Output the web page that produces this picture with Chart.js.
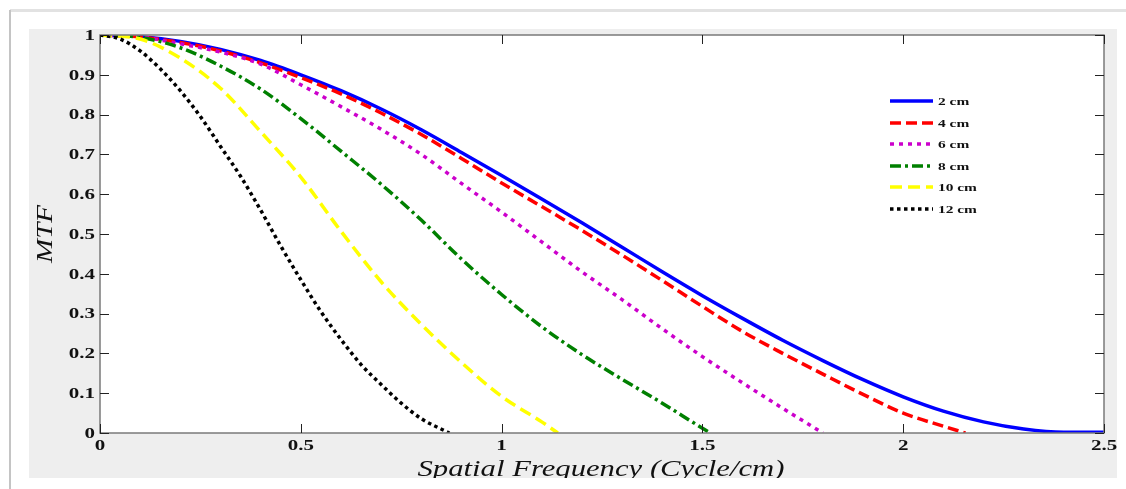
<!DOCTYPE html>
<html>
<head>
<meta charset="utf-8">
<script src="https://cdn.jsdelivr.net/npm/chart.js@4/dist/chart.umd.min.js"></script>
<style>
  html,body{margin:0;padding:0;background:#fff;overflow:hidden;}
  #wrap{width:1126px;height:489px;}
</style>
</head>
<body>
<div id="wrap"><canvas id="mtfChart" width="1126" height="489"></canvas></div>
<script>
// MTF vs spatial frequency, one curve per thickness

// --- data ---
const seriesLabels = ['2 cm', '4 cm', '6 cm', '8 cm', '10 cm', '12 cm'];

const freq2  = [0,0.1,0.2,0.3,0.4,0.5,0.6,0.7,0.8,0.9,1.0,1.1,1.2,1.3,1.4,1.5,1.6,1.7,1.8,1.9,2.0,2.1,2.2,2.3,2.4,2.5];
const mtf2   = [1,0.996,0.984,0.964,0.936,0.90,0.86,0.814,0.762,0.705,0.647,0.588,0.528,0.467,0.405,0.345,0.288,0.233,0.182,0.134,0.091,0.055,0.028,0.01,0.002,0.002];

const freq4  = [0,0.1,0.2,0.3,0.4,0.5,0.6,0.7,0.8,0.9,1.0,1.1,1.2,1.3,1.4,1.5,1.6,1.7,1.8,1.9,2.0,2.1,2.155];
const mtf4   = [1,0.995,0.981,0.96,0.93,0.893,0.852,0.804,0.75,0.69,0.628,0.569,0.509,0.447,0.383,0.318,0.255,0.2,0.148,0.097,0.05,0.017,0];

const freq6  = [0,0.1,0.2,0.3,0.4,0.5,0.6,0.7,0.8,0.9,1.0,1.1,1.2,1.3,1.4,1.5,1.6,1.7,1.8];
const mtf6   = [1,0.995,0.978,0.957,0.927,0.875,0.82,0.763,0.70,0.627,0.555,0.48,0.405,0.335,0.262,0.192,0.126,0.062,0];

const freq8  = [0,0.1,0.2,0.3,0.4,0.5,0.6,0.7,0.8,0.9,1.0,1.1,1.2,1.3,1.4,1.5,1.52];
const mtf8   = [1,0.994,0.968,0.922,0.864,0.79,0.708,0.625,0.535,0.437,0.348,0.267,0.197,0.135,0.075,0.012,0];

const freq10 = [0,0.1,0.2,0.3,0.4,0.5,0.6,0.7,0.8,0.9,1.0,1.1,1.14];
const mtf10  = [1,0.99,0.942,0.866,0.757,0.643,0.507,0.38,0.273,0.177,0.092,0.028,0];

const freq12 = [0,0.05,0.1,0.15,0.2,0.25,0.3,0.35,0.4,0.45,0.5,0.55,0.6,0.65,0.7,0.75,0.8,0.87];
const mtf12  = [1,0.99,0.96,0.915,0.86,0.795,0.72,0.645,0.56,0.47,0.385,0.305,0.235,0.172,0.122,0.075,0.036,0];

const xTicks = [0, 0.5, 1, 1.5, 2, 2.5];
const xTickLabels = ['0', '0.5', '1', '1.5', '2', '2.5'];
const yTicks = [0, 0.1, 0.2, 0.3, 0.4, 0.5, 0.6, 0.7, 0.8, 0.9, 1];
const yTickLabels = ['0', '0.1', '0.2', '0.3', '0.4', '0.5', '0.6', '0.7', '0.8', '0.9', '1'];

const xTitle = 'Spatial Frequency (Cycle/cm)';
const yTitle = 'MTF';

// --- helpers ---
const pts = (xs, ys) => xs.map((x, i) => ({x, y: ys[i]}));

function stretchText(ctx, text, x, y, sx, align){
  ctx.save();
  ctx.translate(x, y);
  ctx.scale(sx, 1);
  ctx.textAlign = align;
  ctx.fillText(text, 0, 0);
  ctx.restore();
}

const SERIF = '"Liberation Serif", "Times New Roman", serif';

// background, frame and MATLAB-like axes box
const figurePlugin = {
  id: 'figure',
  beforeDraw(chart){
    const ctx = chart.ctx;
    const a = chart.chartArea;
    ctx.save();
    ctx.fillStyle = '#ffffff';
    ctx.fillRect(0, 0, chart.width, chart.height);
    // outer shadow frame
    ctx.strokeStyle = '#e2e2e2';
    ctx.lineWidth = 3;
    ctx.beginPath(); ctx.moveTo(10, 10.5); ctx.lineTo(chart.width, 10.5); ctx.stroke();
    ctx.strokeStyle = '#c4c4c4';
    ctx.lineWidth = 2;
    ctx.beginPath(); ctx.moveTo(10, 10); ctx.lineTo(10, chart.height); ctx.stroke();
    // grey figure background
    ctx.fillStyle = '#eeeeee';
    ctx.fillRect(29, 29, 1117 - 29, 478 - 29);
    // white axes
    ctx.fillStyle = '#ffffff';
    ctx.fillRect(a.left, a.top, a.right - a.left, a.bottom - a.top);
    ctx.restore();
  },
  afterDraw(chart){
    const ctx = chart.ctx;
    const a = chart.chartArea;
    const xs = chart.scales.x, ys = chart.scales.y;
    ctx.save();
    // box
    ctx.strokeStyle = '#7a7a7a';
    ctx.lineWidth = 1.5;
    ctx.strokeRect(a.left, a.top, a.right - a.left, a.bottom - a.top);
    // inward ticks on all four sides
    ctx.strokeStyle = '#222';
    ctx.lineWidth = 1;
    const tl = 9;
    xTicks.forEach(v => {
      const px = Math.round(xs.getPixelForValue(v)) + 0.5;
      ctx.beginPath();
      ctx.moveTo(px, a.bottom); ctx.lineTo(px, a.bottom - tl);
      ctx.moveTo(px, a.top); ctx.lineTo(px, a.top + tl);
      ctx.stroke();
    });
    yTicks.forEach(v => {
      const py = Math.round(ys.getPixelForValue(v)) + 0.5;
      ctx.beginPath();
      ctx.moveTo(a.left, py); ctx.lineTo(a.left + tl, py);
      ctx.moveTo(a.right, py); ctx.lineTo(a.right - tl, py);
      ctx.stroke();
    });
    // tick labels
    ctx.fillStyle = '#111';
    ctx.font = 'bold 15px ' + SERIF;
    ctx.textBaseline = 'middle';
    xTicks.forEach((v, i) => {
      stretchText(ctx, xTickLabels[i], xs.getPixelForValue(v), a.bottom + 13, 1.4, 'center');
    });
    yTicks.forEach((v, i) => {
      stretchText(ctx, yTickLabels[i], a.left - 5, ys.getPixelForValue(v) + 1, 1.4, 'right');
    });
    // axis titles
    ctx.save();
    ctx.beginPath(); ctx.rect(0, 0, chart.width, 478); ctx.clip();
    ctx.font = 'italic 23px ' + SERIF;
    ctx.textBaseline = 'alphabetic';
    const w = ctx.measureText(xTitle).width;
    stretchText(ctx, xTitle, 601, 476, 367 / w, 'center');
    ctx.restore();
    ctx.save();
    ctx.font = 'italic 24px ' + SERIF;
    ctx.textBaseline = 'middle';
    const wy = ctx.measureText(yTitle).width;
    ctx.translate(46, 234);
    ctx.rotate(-Math.PI / 2);
    stretchText(ctx, yTitle, 0, 0, 58 / wy, 'center');
    ctx.restore();
    // legend
    const rows = [101, 123, 144, 166, 187, 209];
    ctx.font = 'bold 11px ' + SERIF;
    ctx.textBaseline = 'middle';
    chart.data.datasets.forEach((ds, i) => {
      const y = rows[i];
      ctx.strokeStyle = ds.borderColor;
      ctx.lineWidth = ds.borderWidth;
      ctx.setLineDash(ds.borderDash || []);
      ctx.beginPath(); ctx.moveTo(890, y); ctx.lineTo(933, y); ctx.stroke();
      ctx.setLineDash([]);
      ctx.fillStyle = '#111';
      stretchText(ctx, ds.label, 938, y + 1, 1.4, 'left');
    });
    ctx.restore();
  }
};

const styles = [
  {color: '#0000ff', dash: [], width: 3.5},
  {color: '#ff0000', dash: [11, 5], width: 3.5},
  {color: '#cc00cc', dash: [4, 5], width: 3.5},
  {color: '#008000', dash: [11, 4, 3, 4], width: 3.5},
  {color: '#ffff00', dash: [12, 6], width: 3.5},
  {color: '#000000', dash: [3.5, 3.5], width: 3.5}
];

const series = [pts(freq2, mtf2), pts(freq4, mtf4), pts(freq6, mtf6), pts(freq8, mtf8), pts(freq10, mtf10), pts(freq12, mtf12)];

const datasets = series.map((d, i) => ({
  label: seriesLabels[i],
  data: d,
  borderColor: styles[i].color,
  backgroundColor: styles[i].color,
  borderWidth: styles[i].width,
  borderDash: styles[i].dash,
  borderCapStyle: 'butt',
  pointRadius: 0,
  fill: false,
  cubicInterpolationMode: 'monotone',
  order: 5 - i
}));

new Chart(document.getElementById('mtfChart'), {
  type: 'line',
  data: {datasets},
  options: {
    responsive: false,
    animation: false,
    layout: {padding: {left: 0, top: 35, right: 22, bottom: 0}},
    plugins: {legend: {display: false}, tooltip: {enabled: false}},
    scales: {
      x: {
        type: 'linear', min: 0, max: 2.5,
        grid: {display: false}, border: {display: false},
        ticks: {display: false},
        afterFit: s => { s.height = 56; }
      },
      y: {
        min: 0, max: 1,
        grid: {display: false}, border: {display: false},
        ticks: {display: false},
        afterFit: s => { s.width = 100; }
      }
    }
  },
  plugins: [figurePlugin]
});
</script>
</body>
</html>
